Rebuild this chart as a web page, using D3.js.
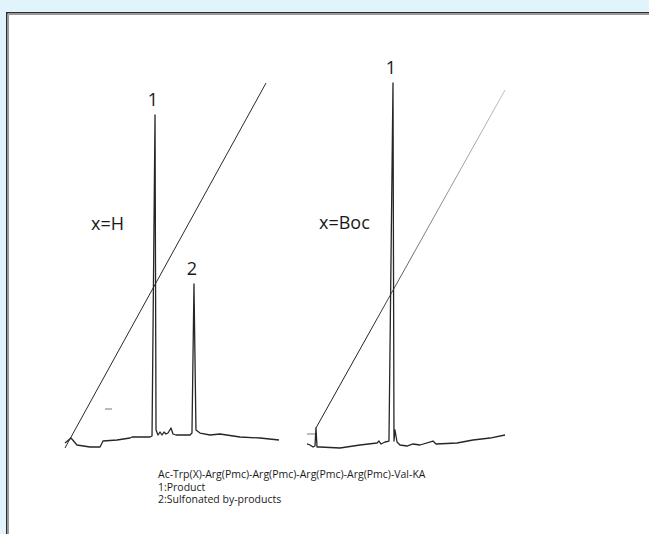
<!DOCTYPE html>
<html>
<head>
<meta charset="utf-8">
<script src="https://cdn.jsdelivr.net/npm/d3@7/dist/d3.min.js"></script>
<style>
  html, body { margin: 0; padding: 0; background: #e2f4fb; overflow: hidden; }
  svg { display: block; }
  text { font-family: "Open Sans", "DejaVu Sans", sans-serif; fill: #1a1a1a; }
</style>
</head>
<body>
<svg id="chart" width="649" height="534"></svg>
<script>
// Retention time (min) and detector signal (relative %), read per trace
const traceH = [
  [0.00, 0.55], [0.84, 1.93], [1.68, 0.00], [3.50, -0.55], [4.91, -0.55],
  [5.33, 1.10], [7.29, 1.38], [9.11, 1.93], [9.39, 2.21], [11.92, 2.21],
  [12.20, 2.49], [12.62, 91.16], [12.76, 4.14], [13.04, 2.76], [13.32, 3.59],
  [13.60, 2.76], [13.88, 3.59], [14.16, 3.04], [14.44, 3.31], [14.86, 4.70],
  [15.14, 3.04], [15.56, 2.76], [17.52, 2.76], [17.80, 3.31], [18.08, 44.48],
  [18.36, 4.14], [18.93, 3.31], [20.33, 2.76], [21.73, 3.04], [24.53, 2.21],
  [27.34, 1.93], [30.00, 1.38]
];
const traceBoc = [
  [0.00, 0.28], [0.45, 0.00], [0.91, -0.55], [1.21, -0.28], [1.36, 4.70],
  [1.52, -0.55], [1.97, -0.55], [5.00, -0.83], [8.03, 0.00], [10.61, 0.55],
  [10.91, 1.10], [11.21, 0.28], [11.82, 0.83], [12.42, 1.10], [13.03, 100.0],
  [13.18, 1.10], [13.33, 4.14], [13.64, 0.83], [14.09, 0.00], [15.15, -0.28],
  [16.06, 0.28], [17.12, 0.00], [19.09, 1.10], [19.55, 0.28], [22.73, 0.55],
  [25.15, 1.38], [27.73, 1.93], [30.00, 2.76]
];
// Solvent gradient lines (start, end)
const gradientH = [[0.00, -0.83], [28.18, 100.0]];
const gradientBoc = [[1.36, 4.70], [30.00, 98.07]];
// Small recorder marks
const markH = [[5.61, 9.94], [6.59, 9.94]];
const markBoc = [[0.00, 3.04], [1.36, 3.04]];

// Peak labels: [time, signal of peak top]
const peaksH = [{ label: "1", t: 12.62, v: 91.16 }, { label: "2", t: 18.08, v: 44.48 }];
const peaksBoc = [{ label: "1", t: 13.03, v: 100.0 }];

const panelTitles = ["x=H", "x=Boc"];
const captionLines = [
  "Ac-Trp(X)-Arg(Pmc)-Arg(Pmc)-Arg(Pmc)-Arg(Pmc)-Val-KA",
  "1:Product",
  "2:Sulfonated by-products"
];

const W = 649, H = 534;
const svg = d3.select("#chart");

// White panel; only its top and left frame edges fall inside the page
svg.append("rect")
  .attr("x", 6.5).attr("y", 12.5)
  .attr("width", W).attr("height", H)
  .attr("fill", "#ffffff");
svg.append("path")
  .attr("d", `M6.75,${H} V12.75 H${W}`)
  .attr("fill", "none").attr("stroke", "#2e2e2e").attr("stroke-width", 1.5);
svg.append("path")
  .attr("d", `M8.5,${H} V14.5 H${W}`)
  .attr("fill", "none").attr("stroke", "#9a9a9a").attr("stroke-width", 1);

const y = d3.scaleLinear().domain([0, 100]).range([445, 83]);
const xH = d3.scaleLinear().domain([0, 30]).range([65, 279]);
const xBoc = d3.scaleLinear().domain([0, 30]).range([307, 505]);

const defs = svg.append("defs");
const fade = defs.append("linearGradient")
  .attr("id", "fadeBoc").attr("gradientUnits", "userSpaceOnUse")
  .attr("x1", 0).attr("y1", y(100)).attr("x2", 0).attr("y2", y(0));
fade.append("stop").attr("offset", 0).attr("stop-color", "#c4c4c4");
fade.append("stop").attr("offset", 0.45).attr("stop-color", "#7a7a7a");
fade.append("stop").attr("offset", 0.7).attr("stop-color", "#222");
fade.append("stop").attr("offset", 1).attr("stop-color", "#222");

function drawPanel(x, trace, grad, mark, peaks, title, titleX, titleY, gradStroke) {
  const line = d3.line().x(d => x(d[0])).y(d => y(d[1]));
  const g = svg.append("g");
  g.append("path").datum(grad).attr("d", line)
    .attr("fill", "none").attr("stroke", gradStroke).attr("stroke-width", 1);
  g.append("path").datum(mark).attr("d", line)
    .attr("fill", "none").attr("stroke", "#777").attr("stroke-width", 1);
  g.append("path").datum(trace).attr("d", line)
    .attr("fill", "none").attr("stroke", "#262626").attr("stroke-width", 1.3)
    .attr("stroke-linejoin", "round");
  g.selectAll("text.peak").data(peaks).enter().append("text")
    .attr("class", "peak")
    .attr("x", d => x(d.t) - 2).attr("y", d => y(d.v) - 9)
    .attr("text-anchor", "middle").attr("font-size", 18)
    .text(d => d.label);
  g.append("text").attr("x", titleX).attr("y", titleY)
    .attr("font-size", 18).text(title);
}

drawPanel(xH, traceH, gradientH, markH, peaksH, panelTitles[0], 91, 230, "#2a2a2a");
drawPanel(xBoc, traceBoc, gradientBoc, markBoc, peaksBoc, panelTitles[1], 319, 229, "url(#fadeBoc)");

svg.append("g").selectAll("text").data(captionLines).enter().append("text")
  .attr("x", 158).attr("y", (d, i) => 478 + i * 12.5)
  .attr("font-size", 10.5).text(d => d);
</script>
</body>
</html>
